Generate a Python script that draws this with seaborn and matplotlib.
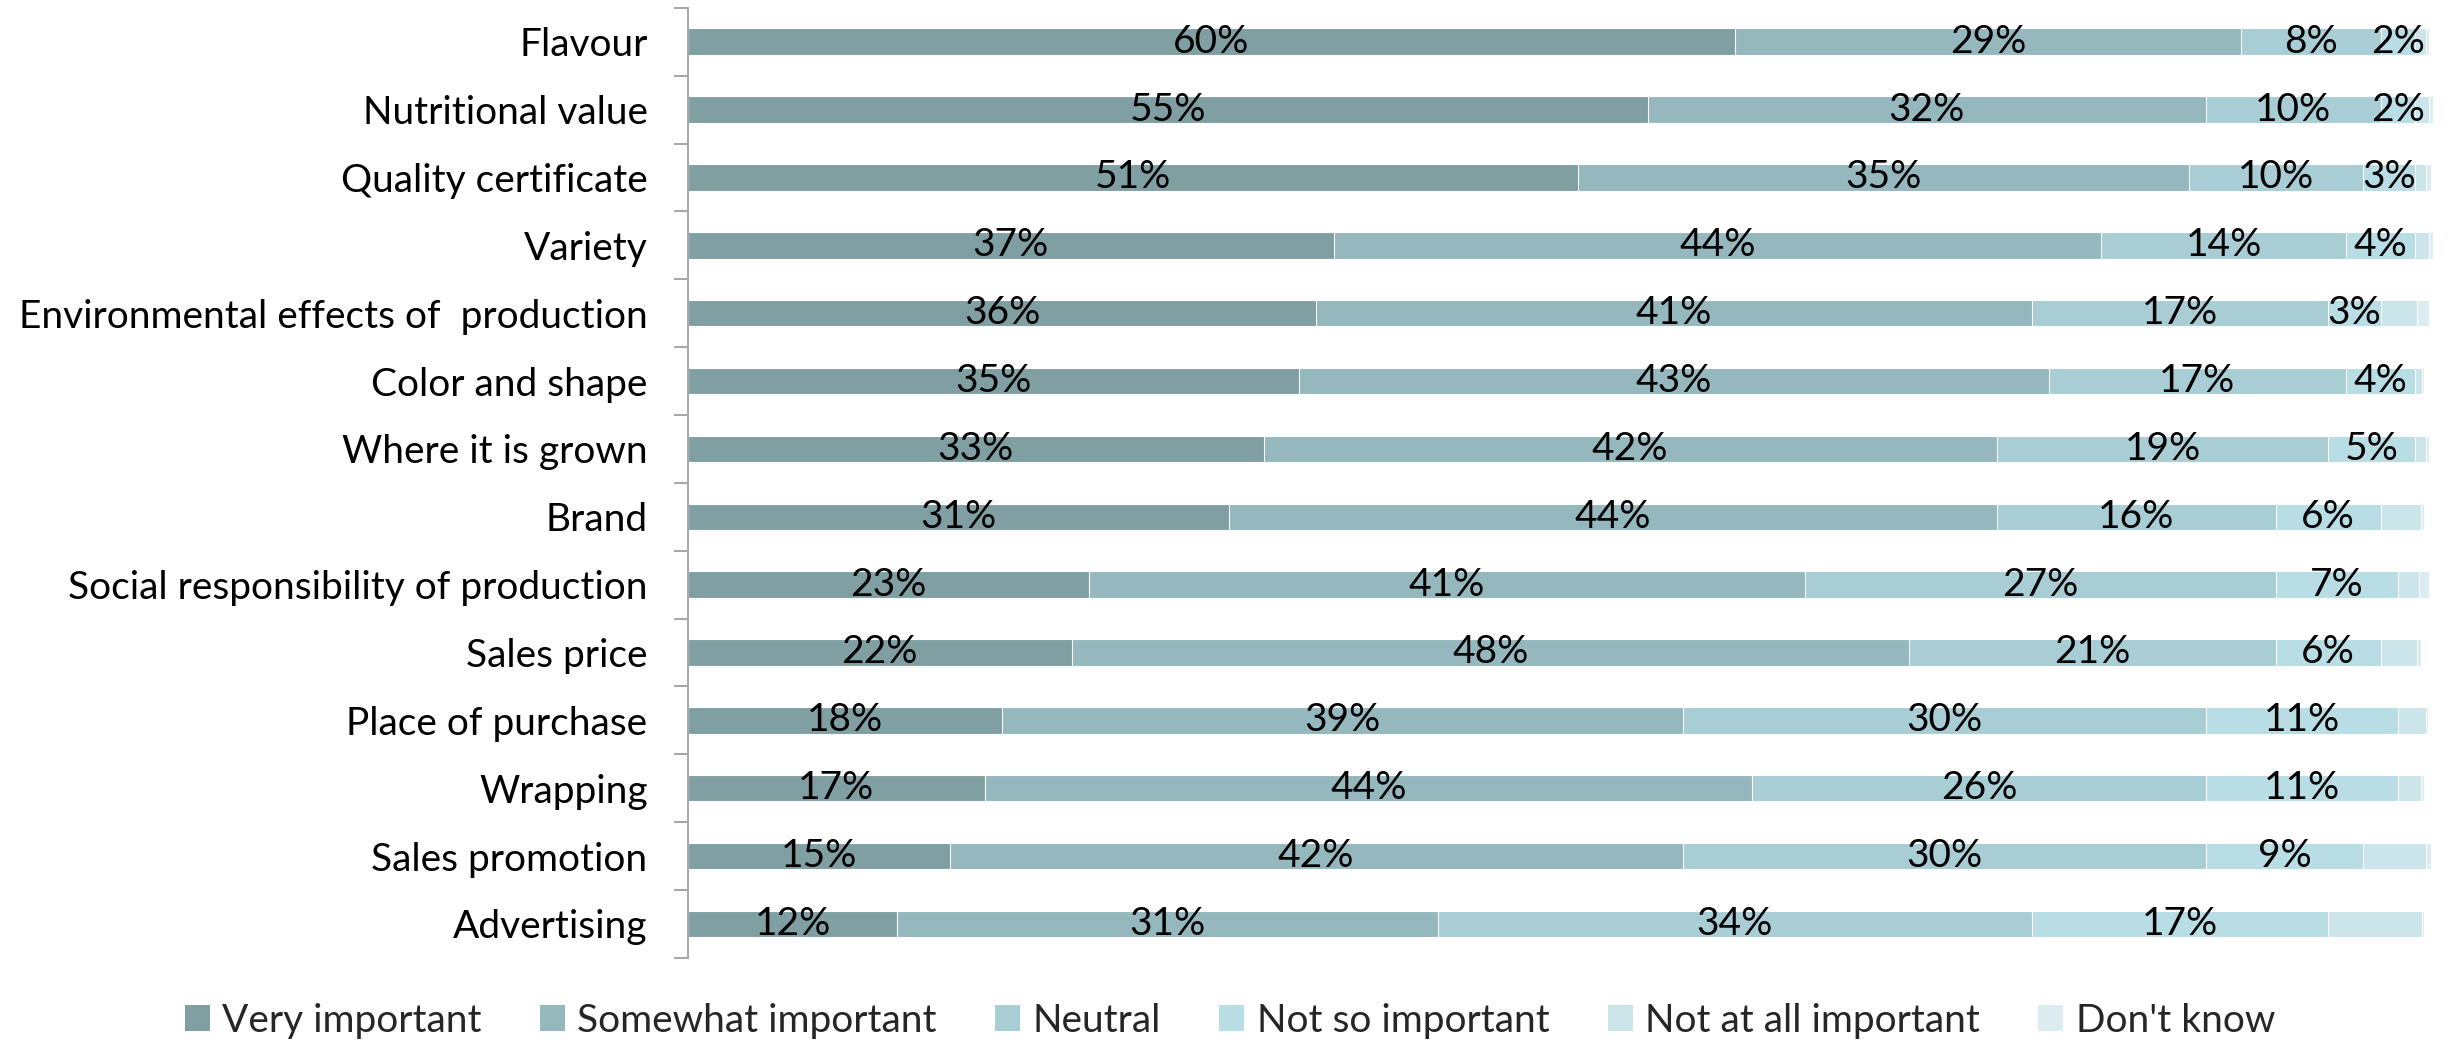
import matplotlib
matplotlib.use("Agg")
import matplotlib.pyplot as plt
import matplotlib.patches as mpatches
import seaborn as sns
import pandas as pd
import numpy as np

categories = ["Flavour", "Nutritional value", "Quality certificate", "Variety",
              "Environmental effects of  production", "Color and shape",
              "Where it is grown", "Brand", "Social responsibility of production",
              "Sales price", "Place of purchase", "Wrapping", "Sales promotion",
              "Advertising"]
series_names = ["Very important", "Somewhat important", "Neutral",
                "Not so important", "Not at all important", "Don't know"]
very_important = [60, 55, 51, 37, 36, 35, 33, 31, 23, 22, 18, 17, 15, 12]
somewhat_important = [29, 32, 35, 44, 41, 43, 42, 44, 41, 48, 39, 44, 42, 31]
neutral = [8, 10, 10, 14, 17, 17, 19, 16, 27, 21, 30, 26, 30, 34]
not_so_important = [2, 2, 3, 4, 3, 4, 5, 6, 7, 6, 11, 11, 9, 17]
not_at_all_important = [0.6, 0.8, 0.6, 0.8, 2.1, 0.4, 0.6, 2.3, 1.2, 2.1, 1.6, 1.3, 3.6, 5.4]
dont_know = [0.2, 0.3, 0.3, 0.3, 0.7, 0.1, 0.2, 0.2, 0.6, 0.2, 0.1, 0.2, 0.3, 0.1]
colors = ["#7F9FA3", "#95B7BE", "#A8CDD5", "#B8DDE4", "#CCE5EA", "#DBEDF1"]

series = [very_important, somewhat_important, neutral, not_so_important,
          not_at_all_important, dont_know]

sns.set_theme(style="white")
plt.rcParams["font.family"] = ["Lato", "DejaVu Sans"]

FS = 28

fig = plt.figure(figsize=(24.55, 10.4), dpi=100)
ax = fig.add_axes([0.2802, 0.079, 0.991 - 0.2802, 0.9925 - 0.079])

df = pd.DataFrame({"category": categories})
cum = np.zeros(len(categories))
cums = []
for s in series:
    cum = cum + np.array(s, dtype=float)
    cums.append(cum.copy())

for i in range(len(series) - 1, -1, -1):
    d = df.copy()
    d["value"] = cums[i]
    sns.barplot(data=d, x="value", y="category", color=colors[i], orient="h",
                width=0.39, edgecolor="white", linewidth=0.8, ax=ax,
                saturation=1)

for i in range(4):
    for j, cat in enumerate(categories):
        v = series[i][j]
        center = cums[i][j] - v / 2
        ax.text(center, j, f"{v:.0f}%", ha="center", va="center",
                fontsize=FS, color="black")

ax.set_xlim(0, 100)
ax.set_ylim(len(categories) - 0.5, -0.5)
ax.set_xlabel("")
ax.set_ylabel("")
ax.set_xticks([])
for sp in ["top", "right", "bottom"]:
    ax.spines[sp].set_visible(False)
ax.spines["left"].set_color("#A6A6A6")
ax.spines["left"].set_linewidth(1.4)
ax.tick_params(axis="y", which="major", length=0, labelsize=FS, pad=29,
               labelcolor="black")
ax.set_yticks(np.arange(-0.5, len(categories) + 0.5, 1), minor=True)
ax.tick_params(axis="y", which="minor", length=10, width=1.4, color="#A6A6A6",
               direction="out", left=True)

handles = [mpatches.Patch(facecolor=c, edgecolor="none", label=n)
           for c, n in zip(colors, series_names)]
fig.legend(handles=handles, loc="center", bbox_to_anchor=(0.501, 0.0185),
           ncol=6, frameon=False, fontsize=FS, handlelength=0.64,
           handleheight=0.64, handletextpad=0.32, columnspacing=1.5)

fig.savefig("out.png", dpi=100)
